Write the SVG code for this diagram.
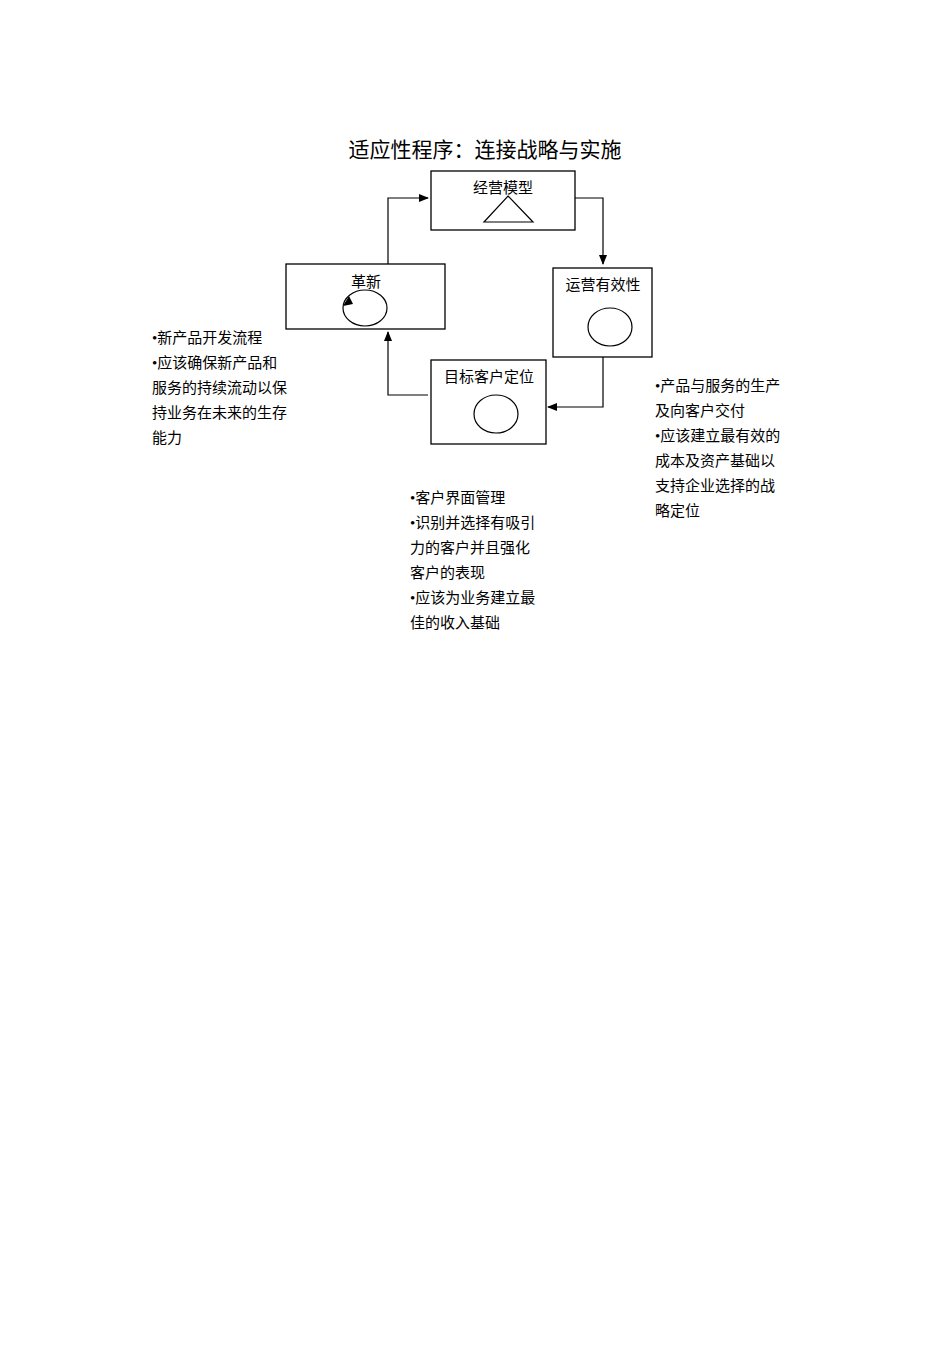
<svg xmlns="http://www.w3.org/2000/svg" width="950" height="1345" viewBox="0 0 950 1345">
<defs><marker id="a" markerWidth="10" markerHeight="10" refX="9" refY="5" orient="auto" markerUnits="userSpaceOnUse"><path d="M0,1 L10,5 L0,9 Z" fill="#000"/></marker></defs>
<style>
text{font-family:"Liberation Serif","Noto Sans CJK SC",serif;fill:#000;font-size:15px}
.b{fill:#fff;stroke:#000;stroke-width:1.3}
.c{fill:none;stroke:#000;stroke-width:1.2}
.t{font-size:21px}
</style>
<rect width="950" height="1345" fill="#fff"/>
<text class="t" x="485" y="157" text-anchor="middle">适应性程序：连接战略与实施</text>
<g id="n1"><rect class="b" x="431" y="171" width="144" height="59"/><text x="503" y="193" text-anchor="middle">经营模型</text><path class="c" d="M508,196 L533,222 L484,222 Z"/></g>
<g id="n2"><rect class="b" x="286" y="264" width="159" height="65"/><text x="366" y="287" text-anchor="middle">革新</text><ellipse class="c" cx="365" cy="308" rx="22" ry="18"/><path d="M343,306 L349,296 L353,304 Z" fill="#000"/></g>
<g id="n3"><rect class="b" x="553" y="268" width="99" height="89"/><text x="603" y="290" text-anchor="middle">运营有效性</text><ellipse class="c" cx="610" cy="327" rx="22" ry="19"/></g>
<g id="n4"><rect class="b" x="431" y="360" width="115" height="84"/><text x="489" y="382" text-anchor="middle">目标客户定位</text><ellipse class="c" cx="496" cy="414" rx="22" ry="19"/></g>
<g id="edges">
<path class="c" d="M388,264 V198 H428" marker-end="url(#a)"/>
<path class="c" d="M575,198 H603 V264" marker-end="url(#a)"/>
<path class="c" d="M603,357 V407 H548" marker-end="url(#a)"/>
<path class="c" d="M428,395 H388 V332" marker-end="url(#a)"/>
</g>
<g id="notes">
<text x="152" y="343">•新产品开发流程</text>
<text x="152" y="368">•应该确保新产品和</text>
<text x="152" y="393">服务的持续流动以保</text>
<text x="152" y="418">持业务在未来的生存</text>
<text x="152" y="443">能力</text>
<text x="655" y="391">•产品与服务的生产</text>
<text x="655" y="416">及向客户交付</text>
<text x="655" y="441">•应该建立最有效的</text>
<text x="655" y="466">成本及资产基础以</text>
<text x="655" y="491">支持企业选择的战</text>
<text x="655" y="516">略定位</text>
<text x="410" y="503">•客户界面管理</text>
<text x="410" y="528">•识别并选择有吸引</text>
<text x="410" y="553">力的客户并且强化</text>
<text x="410" y="578">客户的表现</text>
<text x="410" y="603">•应该为业务建立最</text>
<text x="410" y="628">佳的收入基础</text>
</g>
</svg>
